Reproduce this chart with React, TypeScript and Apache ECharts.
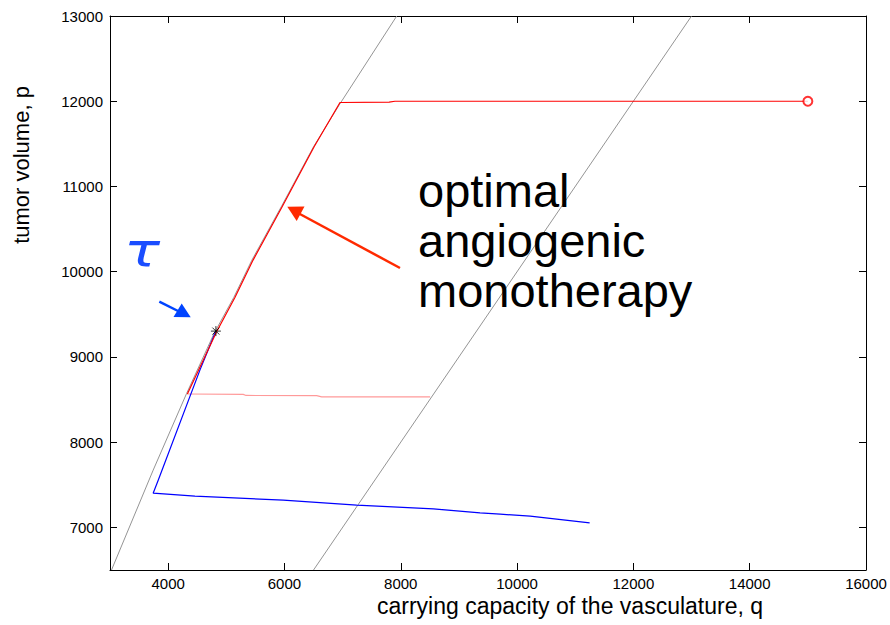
import React, { useEffect, useRef } from "react";
import * as echarts from "echarts";

// ---- data (q = carrying capacity, p = tumor volume) ----
const xTicks = [4000, 6000, 8000, 10000, 12000, 14000, 16000];
const yTicks = [7000, 8000, 9000, 10000, 11000, 12000, 13000];

const grayLeft: [number, number][] = [
  [3026, 6500], [3742, 7671], [4317, 8571], [4790, 9276], [5130, 9700], [5440, 10136],
  [5945, 10762], [6500, 11466], [6945, 11960], [7931, 13000],
];
const grayDiagonal: [number, number][] = [[6500, 6500], [13000, 13000]];

const redPath: [number, number][] = [
  [15000, 12000], [7900, 12000], [7800, 11990], [6955, 11985], [6510, 11466],
  [5960, 10762], [5460, 10136], [5150, 9700], [4833, 9295], [4330, 8565],
];
const pinkPath: [number, number][] = [
  [4330, 8565], [5291, 8560], [5340, 8548], [6554, 8545], [6640, 8532], [8504, 8532],
];
const bluePath: [number, number][] = [
  [11248, 7053], [10225, 7131], [9709, 7155], [9363, 7170], [8561, 7217],
  [7243, 7261], [5979, 7319], [4460, 7366], [3742, 7401], [3829, 7554],
  [4546, 8845], [4821, 9303],
];
const starPoint: [number, number][] = [[4821, 9303]];
const circlePoint: [number, number][] = [[15000, 12000]];

const annotationLines = ["optimal", "angiogenic", "monotherapy"];
const xLabel = "carrying capacity of the vasculature, q";
const yLabel = "tumor volume, p";

const FONT = "'Liberation Sans', Arial, Helvetica, sans-serif";

export default function App() {
  const ref = useRef<HTMLDivElement>(null);
  useEffect(() => {
    if (!ref.current) return;
    const chart = echarts.init(ref.current, undefined, { renderer: "svg" });
    const axisLine = { show: true, lineStyle: { color: "#000", width: 1 } };
    const plain = (v: number) => String(v);
    const xAxisBase = {
      type: "value",
      min: 3000,
      max: 16000,
      axisLine,
      splitLine: { show: false },
      axisTick: { show: true, inside: true, length: 7, customValues: xTicks, lineStyle: { color: "#000" } },
    };
    const yAxisBase = {
      type: "value",
      min: 6500,
      max: 13000,
      axisLine,
      splitLine: { show: false },
      axisTick: { show: true, inside: true, length: 7, customValues: yTicks, lineStyle: { color: "#000" } },
    };
    const option: any = {
      animation: false,
      backgroundColor: "#fff",
      grid: { left: 110, right: 24, top: 16, bottom: 55, containLabel: false },
      xAxis: [
        {
          ...xAxisBase,
          position: "bottom",
          axisLabel: {
            customValues: xTicks, formatter: plain, color: "#000", fontSize: 15, fontFamily: FONT, margin: 6,
            showMinLabel: true, showMaxLabel: true,
          },
        },
        { ...xAxisBase, position: "top", axisLabel: { show: false } },
      ],
      yAxis: [
        {
          ...yAxisBase,
          position: "left",
          axisLabel: {
            customValues: yTicks, formatter: plain, color: "#000", fontSize: 15, fontFamily: FONT, margin: 7,
            showMinLabel: true, showMaxLabel: true,
          },
        },
        { ...yAxisBase, position: "right", axisLabel: { show: false } },
      ],
      series: [
        { type: "line", data: grayLeft, showSymbol: false, lineStyle: { color: "#888", width: 0.9 }, z: 1 },
        { type: "line", data: grayDiagonal, showSymbol: false, lineStyle: { color: "#888", width: 0.9 }, z: 1 },
        { type: "line", data: pinkPath, showSymbol: false, lineStyle: { color: "#ff9a9a", width: 1.2 }, z: 2 },
        { type: "line", data: bluePath, showSymbol: false, lineStyle: { color: "#0000ff", width: 1.2 }, z: 3 },
        { type: "line", data: redPath, showSymbol: false, lineStyle: { color: "#ff0000", width: 1.2 }, z: 4 },
        {
          type: "scatter", data: circlePoint, symbol: "emptyCircle", symbolSize: 9,
          itemStyle: { color: "#ff0000", borderColor: "#ff0000", borderWidth: 1 }, z: 5,
        },
        {
          type: "scatter", data: starPoint,
          symbol: "path://M0,-5L0,5M-5,0L5,0M-3.5,-3.5L3.5,3.5M-3.5,3.5L3.5,-3.5",
          symbolSize: 10,
          itemStyle: { color: "none", borderColor: "#000", borderWidth: 1 }, z: 6,
        },
      ],
      graphic: [
        ...annotationLines.map((t, i) => ({
          type: "text",
          x: 418,
          y: [190, 240, 290][i],
          style: { text: t, font: `47px ${FONT}`, fill: "#000", textAlign: "left", verticalAlign: "middle" },
          z: 10,
        })),
        { type: "line", shape: { x1: 400, y1: 268, x2: 298, y2: 213 }, style: { stroke: "#ff2a00", lineWidth: 2.5 }, z: 10 },
        { type: "polygon", shape: { points: [[287.3, 206.7], [304.5, 206.5], [296.7, 221]] }, style: { fill: "#ff2a00" }, z: 10 },
        { type: "line", shape: { x1: 159.3, y1: 301.7, x2: 181, y2: 312.5 }, style: { stroke: "#0044ff", lineWidth: 2.5 }, z: 10 },
        { type: "polygon", shape: { points: [[190.7, 317.3], [181.7, 303.5], [173.5, 317]] }, style: { fill: "#0044ff" }, z: 10 },
        {
          type: "text", x: 142, y: 250, scaleX: 1.3,
          style: { text: "τ", font: `italic 46px 'DejaVu Sans', sans-serif`, fill: "#1a4dff", textAlign: "center", verticalAlign: "middle" },
          z: 10,
        },
        {
          type: "text", x: 570, y: 606,
          style: { text: xLabel, font: `23px ${FONT}`, fill: "#000", textAlign: "center", verticalAlign: "middle" },
        },
        {
          type: "text", x: 21, y: 165, rotation: Math.PI / 2,
          style: { text: yLabel, font: `22px ${FONT}`, fill: "#000", textAlign: "center", verticalAlign: "middle" },
        },
      ],
    };
    chart.setOption(option);
    return () => chart.dispose();
  }, []);
  return (
    <div
      ref={ref}
      style={{ position: "fixed", left: 0, top: 0, width: 890, height: 625, background: "#fff" }}
    />
  );
}
